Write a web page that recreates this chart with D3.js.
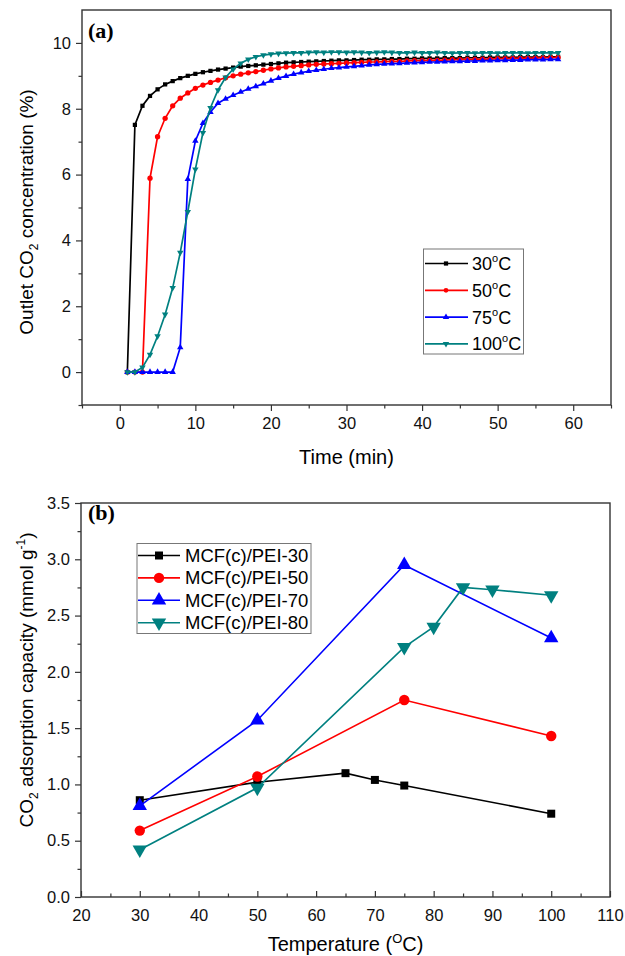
<!DOCTYPE html>
<html>
<head>
<meta charset="utf-8">
<script src="https://cdn.jsdelivr.net/npm/d3@7"></script>
<style>
  html, body { margin: 0; padding: 0; background: #fff; }
  svg { display: block; font-family: "Liberation Sans", Arial, sans-serif; }
</style>
</head>
<body>
<svg id="chart" width="625" height="956"></svg>
<script>
// Panel (a): breakthrough curves, one point per minute
const timeMin = [1, 2, 3, 4, 5, 6, 7, 8, 9, 10, 11, 12, 13, 14, 15, 16, 17, 18, 19, 20,
  21, 22, 23, 24, 25, 26, 27, 28, 29, 30, 31, 32, 33, 34, 35, 36, 37, 38, 39, 40,
  41, 42, 43, 44, 45, 46, 47, 48, 49, 50, 51, 52, 53, 54, 55, 56, 57, 58];

const conc30 = [0, 7.51, 8.09, 8.39, 8.59, 8.74, 8.84, 8.93, 9.00, 9.06,
  9.11, 9.15, 9.19, 9.22, 9.25, 9.28, 9.30, 9.32, 9.34, 9.36,
  9.38, 9.40, 9.41, 9.42, 9.43, 9.44, 9.45, 9.46, 9.47, 9.47,
  9.48, 9.49, 9.49, 9.50, 9.50, 9.51, 9.51, 9.52, 9.52, 9.53,
  9.53, 9.53, 9.54, 9.54, 9.54, 9.55, 9.55, 9.55, 9.56, 9.56,
  9.56, 9.56, 9.57, 9.57, 9.57, 9.57, 9.58, 9.58];
const conc50 = [0, 0, 0, 5.89, 7.15, 7.71, 8.09, 8.32, 8.48, 8.62,
  8.72, 8.80, 8.87, 8.94, 9.00, 9.05, 9.09, 9.13, 9.17, 9.21,
  9.24, 9.27, 9.29, 9.31, 9.33, 9.35, 9.36, 9.37, 9.38, 9.39,
  9.40, 9.41, 9.42, 9.42, 9.43, 9.44, 9.44, 9.45, 9.46, 9.46,
  9.47, 9.47, 9.48, 9.49, 9.49, 9.50, 9.50, 9.51, 9.51, 9.52,
  9.52, 9.53, 9.53, 9.54, 9.54, 9.55, 9.55, 9.56];
const conc75 = [0, 0, 0, 0, 0, 0, 0, 0.75, 5.86, 7.02,
  7.56, 7.90, 8.17, 8.30, 8.41, 8.51, 8.60, 8.68, 8.76, 8.85,
  8.93, 8.99, 9.05, 9.10, 9.14, 9.17, 9.20, 9.23, 9.25, 9.27,
  9.29, 9.31, 9.33, 9.35, 9.36, 9.37, 9.38, 9.39, 9.40, 9.41,
  9.42, 9.42, 9.43, 9.44, 9.44, 9.45, 9.45, 9.46, 9.46, 9.47,
  9.47, 9.48, 9.48, 9.49, 9.49, 9.49, 9.50, 9.50];
const conc100 = [0, 0, 0.14, 0.53, 1.09, 1.75, 2.56, 3.63, 4.87, 6.16,
  7.27, 8.03, 8.57, 8.95, 9.20, 9.38, 9.50, 9.58, 9.63, 9.66,
  9.68, 9.69, 9.70, 9.70, 9.71, 9.72, 9.71, 9.72, 9.72, 9.71,
  9.72, 9.71, 9.70, 9.71, 9.72, 9.71, 9.70, 9.70, 9.71, 9.70,
  9.70, 9.71, 9.70, 9.69, 9.70, 9.70, 9.69, 9.70, 9.70, 9.69,
  9.70, 9.70, 9.70, 9.69, 9.70, 9.70, 9.70, 9.70];

const tempLabelsA = ["30", "50", "75", "100"];

// Panel (b): adsorption capacity vs temperature
const temp30 = [30, 50, 65, 70, 75, 100];
const cap30  = [0.86, 1.02, 1.10, 1.04, 0.99, 0.74];
const temp50 = [30, 50, 75, 100];
const cap50  = [0.59, 1.07, 1.75, 1.43];
const temp70 = [30, 50, 75, 100];
const cap70  = [0.81, 1.57, 2.95, 2.30];
const temp80 = [30, 50, 75, 80, 85, 90, 100];
const cap80  = [0.42, 0.97, 2.22, 2.40, 2.75, 2.73, 2.68];

const seriesNamesB = ["MCF(c)/PEI-30", "MCF(c)/PEI-50", "MCF(c)/PEI-70", "MCF(c)/PEI-80"];

const colors = ["#000000", "#ff0000", "#0000ff", "#008080"];
const shapes = [d3.symbolSquare, d3.symbolCircle, d3.symbolTriangle, d3.symbolTriangle];
const flip   = [false, false, false, true];
const sizesB = [64, 85, 90, 90];

const svg = d3.select("#chart");
const frameColor = "#333";

function drawFrame(x, y) {
  const [x0, x1] = x.range(), [y0, y1] = y.range();
  svg.append("rect")
    .attr("x", x0).attr("y", y1)
    .attr("width", x1 - x0).attr("height", y0 - y1)
    .attr("fill", "none").attr("stroke", frameColor).attr("stroke-width", 1.4);
}

function styleAxis(g) {
  g.select(".domain").remove();
  g.selectAll("line").attr("stroke", frameColor).attr("stroke-width", 1.2);
  g.selectAll("text").attr("fill", "#111").style("font-size", "16.5px")
    .style("font-family", "'Liberation Sans', Arial, sans-serif");
}

function drawSeries(x, y, xs, ys, i, size, lw) {
  const pts = xs.map((v, k) => [v, ys[k]]);
  svg.append("path")
    .datum(pts)
    .attr("fill", "none")
    .attr("stroke", colors[i])
    .attr("stroke-width", lw)
    .attr("d", d3.line().x(d => x(d[0])).y(d => y(d[1])));
  svg.append("g").selectAll("path")
    .data(pts)
    .join("path")
    .attr("d", d3.symbol().type(shapes[i]).size(size))
    .attr("fill", colors[i])
    .attr("transform", d => `translate(${x(d[0])},${y(d[1])})` + (flip[i] ? " rotate(180)" : ""));
}

// ---------- panel (a) ----------
const xa = d3.scaleLinear().domain([-5, 65]).range([82, 611]);
const ya = d3.scaleLinear().domain([-1, 11]).range([405, 10]);

[conc30, conc50, conc75, conc100].forEach((s, i) => {
  drawSeries(xa, ya, timeMin, s, i, i === 1 ? 22 : 18, 1.7);
});

svg.append("g").attr("transform", `translate(0,${ya(-1)})`)
  .call(d3.axisBottom(xa).tickValues([0, 10, 20, 30, 40, 50, 60]).tickSize(6).tickPadding(6))
  .call(styleAxis);
svg.append("g").attr("transform", `translate(0,${ya(-1)})`)
  .call(d3.axisBottom(xa).tickValues([-5, 5, 15, 25, 35, 45, 55, 65]).tickSize(3.5).tickFormat(""))
  .call(styleAxis);
svg.append("g").attr("transform", `translate(${xa(-5)},0)`)
  .call(d3.axisLeft(ya).tickValues([0, 2, 4, 6, 8, 10]).tickSize(6).tickPadding(5))
  .call(styleAxis);
svg.append("g").attr("transform", `translate(${xa(-5)},0)`)
  .call(d3.axisLeft(ya).tickValues([-1, 1, 3, 5, 7, 9]).tickSize(3.5).tickFormat(""))
  .call(styleAxis);
drawFrame(xa, ya);

svg.append("text").attr("x", 88).attr("y", 38)
  .style("font-family", "'Liberation Serif', 'Times New Roman', serif")
  .style("font-weight", "bold").style("font-size", "22px").text("(a)");

svg.append("text").attr("x", (xa(-5) + xa(65)) / 2).attr("y", 464)
  .attr("text-anchor", "middle").style("font-size", "20px").text("Time (min)");

const ta = svg.append("text")
  .attr("transform", "translate(33,212) rotate(-90)")
  .attr("text-anchor", "middle").style("font-size", "19px");
ta.append("tspan").text("Outlet CO");
ta.append("tspan").attr("dy", 5).style("font-size", "12px").text("2");
ta.append("tspan").attr("dy", -5).text(" concentration (%)");

// legend (a)
const lgA = svg.append("g");
lgA.append("rect").attr("x", 423.5).attr("y", 249).attr("width", 100).attr("height", 105)
  .attr("fill", "#fff").attr("stroke", "#777").attr("stroke-width", 1);
tempLabelsA.forEach((t, i) => {
  const cy = 263.5 + i * 26.8;
  lgA.append("line").attr("x1", 425).attr("x2", 468).attr("y1", cy).attr("y2", cy)
    .attr("stroke", colors[i]).attr("stroke-width", 1.7);
  lgA.append("path").attr("d", d3.symbol().type(shapes[i]).size(18)())
    .attr("fill", colors[i])
    .attr("transform", `translate(446,${cy})` + (flip[i] ? " rotate(180)" : ""));
  const tx = lgA.append("text").attr("x", 472).attr("y", cy + 6.5).style("font-size", "18px");
  tx.append("tspan").text(t);
  tx.append("tspan").attr("dy", -8).style("font-size", "11px").text("o");
  tx.append("tspan").attr("dy", 8).text("C");
});

// ---------- panel (b) ----------
const xb = d3.scaleLinear().domain([20, 110]).range([81, 610]);
const yb = d3.scaleLinear().domain([0, 3.5]).range([897, 503]);

[[temp30, cap30], [temp50, cap50], [temp70, cap70], [temp80, cap80]].forEach(([xs, ys], i) => {
  drawSeries(xb, yb, xs, ys, i, sizesB[i], 1.6);
});

svg.append("g").attr("transform", `translate(0,${yb(0)})`)
  .call(d3.axisBottom(xb).tickValues(d3.range(20, 111, 10)).tickSize(-6).tickPadding(12))
  .call(styleAxis);
svg.append("g").attr("transform", `translate(0,${yb(0)})`)
  .call(d3.axisBottom(xb).tickValues(d3.range(25, 110, 10)).tickSize(-3.5).tickFormat(""))
  .call(styleAxis);
svg.append("g").attr("transform", `translate(${xb(20)},0)`)
  .call(d3.axisLeft(yb).tickValues(d3.range(0, 3.51, 0.5)).tickSize(6).tickPadding(5).tickFormat(d3.format(".1f")))
  .call(styleAxis);
svg.append("g").attr("transform", `translate(${xb(20)},0)`)
  .call(d3.axisLeft(yb).tickValues(d3.range(0.25, 3.5, 0.5)).tickSize(3.5).tickFormat(""))
  .call(styleAxis);
drawFrame(xb, yb);

svg.append("text").attr("x", 88).attr("y", 520)
  .style("font-family", "'Liberation Serif', 'Times New Roman', serif")
  .style("font-weight", "bold").style("font-size", "22px").text("(b)");

const tbx = svg.append("text").attr("x", (xb(20) + xb(110)) / 2).attr("y", 951)
  .attr("text-anchor", "middle").style("font-size", "20px");
tbx.append("tspan").text("Temperature (");
tbx.append("tspan").attr("dy", -8).style("font-size", "13px").text("O");
tbx.append("tspan").attr("dy", 8).text("C)");

const tby = svg.append("text")
  .attr("transform", "translate(33,680) rotate(-90)")
  .attr("text-anchor", "middle").style("font-size", "19px");
tby.append("tspan").text("CO");
tby.append("tspan").attr("dy", 5).style("font-size", "12px").text("2");
tby.append("tspan").attr("dy", -5).text(" adsorption capacity (mmol g");
tby.append("tspan").attr("dy", -8).style("font-size", "12px").text("-1");
tby.append("tspan").attr("dy", 8).text(")");

// legend (b)
const lgB = svg.append("g");
lgB.append("rect").attr("x", 137).attr("y", 543.5).attr("width", 174).attr("height", 90)
  .attr("fill", "#fff").attr("stroke", "#777").attr("stroke-width", 1);
seriesNamesB.forEach((n, i) => {
  const cy = 555.5 + i * 22.4;
  lgB.append("line").attr("x1", 138).attr("x2", 180).attr("y1", cy).attr("y2", cy)
    .attr("stroke", colors[i]).attr("stroke-width", 1.6);
  lgB.append("path").attr("d", d3.symbol().type(shapes[i]).size(sizesB[i])())
    .attr("fill", colors[i])
    .attr("transform", `translate(159,${cy})` + (flip[i] ? " rotate(180)" : ""));
  lgB.append("text").attr("x", 185).attr("y", cy + 6.5).style("font-size", "18.5px").text(n);
});
</script>
</body>
</html>
